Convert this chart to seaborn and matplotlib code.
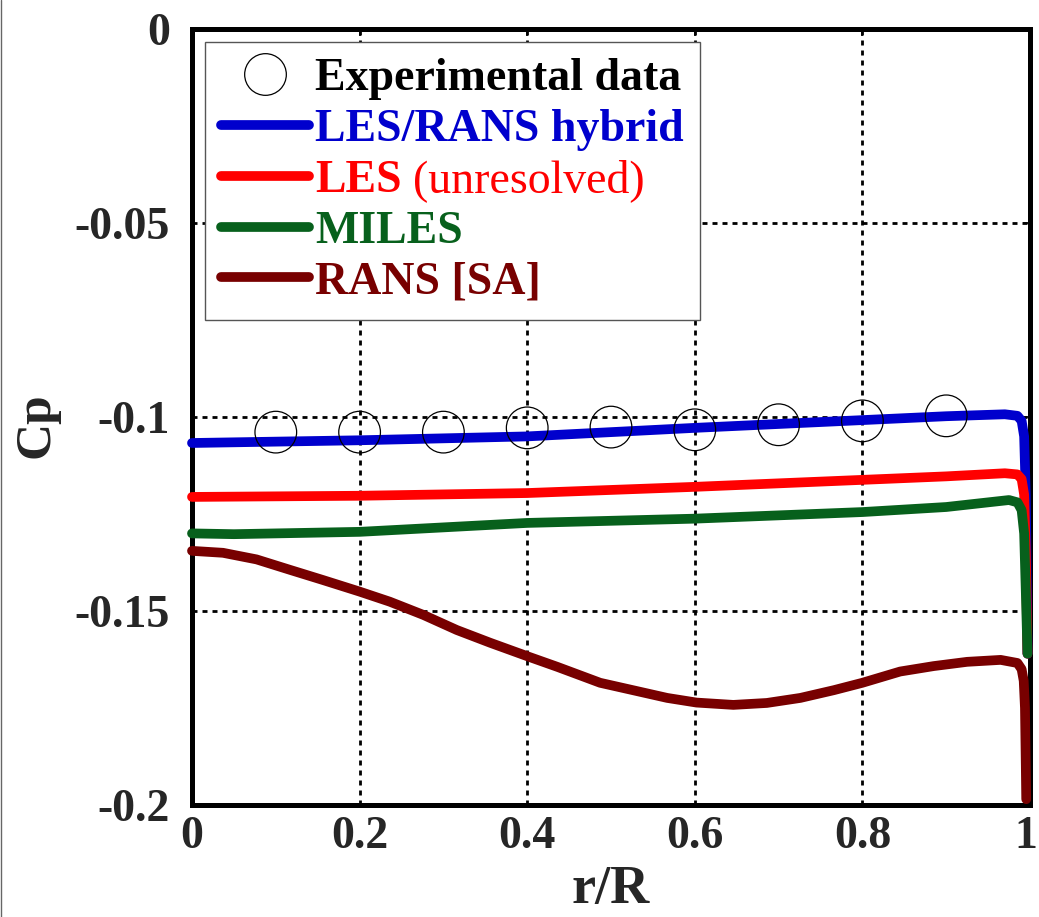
import numpy as np
import pandas as pd
import matplotlib
matplotlib.use('Agg')
import matplotlib.pyplot as plt
import matplotlib.transforms as mtransforms
from matplotlib.lines import Line2D
import seaborn as sns

# ---- data ----
exp_r = [0.1, 0.2, 0.3, 0.4, 0.5, 0.6, 0.7, 0.8, 0.9]
exp_cp = [-0.1039, -0.1039, -0.1039, -0.1028, -0.1026, -0.1033, -0.1020, -0.1010, -0.0997]

hyb_r = [0.0, 0.2, 0.4, 0.6, 0.8, 0.9, 0.97, 0.985, 0.99, 0.993, 0.995, 0.997]
hyb_cp = [-0.1067, -0.1060, -0.1050, -0.1028, -0.1008, -0.0998, -0.0993, -0.0997, -0.1010, -0.1050, -0.1200, -0.1610]

les_r = [0.0, 0.2, 0.4, 0.6, 0.8, 0.9, 0.97, 0.985, 0.99, 0.993, 0.995, 0.997]
les_cp = [-0.1206, -0.1203, -0.1196, -0.1180, -0.1162, -0.1153, -0.1145, -0.1148, -0.1160, -0.1200, -0.1350, -0.1610]

miles_r = [0.0, 0.05, 0.2, 0.4, 0.6, 0.8, 0.9, 0.95, 0.975, 0.985, 0.99, 0.993, 0.995, 0.997]
miles_cp = [-0.1300, -0.1302, -0.1296, -0.1273, -0.1262, -0.1245, -0.1232, -0.1220, -0.1214, -0.1220, -0.1240, -0.1300, -0.1450, -0.1610]

rans_r = [0.0, 0.037, 0.077, 0.117, 0.156, 0.2, 0.236, 0.276, 0.316, 0.356, 0.402, 0.436, 0.487,
          0.526, 0.567, 0.602, 0.646, 0.686, 0.726, 0.766, 0.8, 0.845, 0.885, 0.925, 0.965,
          0.985, 0.99, 0.9925, 0.994, 0.995, 0.9955]
rans_cp = [-0.1345, -0.1350, -0.1367, -0.1394, -0.1420, -0.1450, -0.1476, -0.1510, -0.1549, -0.1582,
           -0.1618, -0.1644, -0.1685, -0.1704, -0.1724, -0.1736, -0.1742, -0.1737, -0.1724, -0.1704,
           -0.1685, -0.1656, -0.1642, -0.1631, -0.1626, -0.1634, -0.1650, -0.1680, -0.1750, -0.1900,
           -0.1985]

models = ['LES/RANS hybrid', 'LES', 'MILES', 'RANS [SA]']
colors = ['#0000cd', '#ff0000', '#07601c', '#780000']

xticks = [0, 0.2, 0.4, 0.6, 0.8, 1.0]
xticklabels = ['0', '0.2', '0.4', '0.6', '0.8', '1']
yticks = [0, -0.05, -0.1, -0.15, -0.2]
yticklabels = ['0', '-0.05', '-0.1', '-0.15', '-0.2']

# ---- style ----
sns.set_style('white')
plt.rcParams['font.family'] = ['Liberation Serif', 'DejaVu Serif']
plt.rcParams['font.weight'] = 'bold'
plt.rcParams['axes.unicode_minus'] = False

frames = []
for name, r, cp in zip(models, [hyb_r, les_r, miles_r, rans_r], [hyb_cp, les_cp, miles_cp, rans_cp]):
    frames.append(pd.DataFrame({'r': r, 'cp': cp, 'model': name}))
df = pd.concat(frames, ignore_index=True)
exp_df = pd.DataFrame({'r': exp_r, 'cp': exp_cp})

fig = plt.figure(figsize=(10.39, 9.17), dpi=100)
ax = fig.add_axes([192 / 1039, 1 - 805 / 917, 838 / 1039, 776 / 917])

# dotted grid at the inner ticks only
for gx in xticks[1:-1]:
    ax.axvline(gx, color='black', lw=2, ls=(0, (1.8, 1.8)), zorder=1)
for gy in yticks[1:-1]:
    ax.axhline(gy, color='black', lw=2, ls=(0, (1.8, 1.8)), zorder=1)

sns.lineplot(data=df, x='r', y='cp', hue='model', hue_order=models,
             palette=dict(zip(models, colors)), estimator=None, sort=False,
             lw=7, legend=False, ax=ax, clip_on=False, zorder=3)
sns.scatterplot(data=exp_df, x='r', y='cp', s=900, marker='o',
                facecolor='none', edgecolor='black', linewidth=0.9, ax=ax, zorder=4)

ax.set_xlim(0, 1)
ax.set_ylim(-0.2, 0)
ax.set_xticks(xticks)
ax.set_xticklabels(xticklabels)
ax.set_yticks(yticks)
ax.set_yticklabels(yticklabels)
ax.tick_params(axis='both', direction='in', length=5, width=1.2, labelsize=33,
               top=True, right=True, color='black')
ax.tick_params(axis='x', pad=8)
ax.tick_params(axis='y', pad=16)
for sp in ax.spines.values():
    sp.set_linewidth(3.6)
    sp.set_color('black')
    sp.set_visible(True)

# keep the "1" label inside the canvas
last = ax.get_xticklabels()[-1]
last.set_transform(last.get_transform() + mtransforms.ScaledTranslation(-3 / 72, 0, fig.dpi_scale_trans))

ax.set_xlabel('r/R', fontsize=39, fontweight='bold')
ax.set_ylabel('Cp', fontsize=37, fontweight='bold')
ax.xaxis.set_label_coords(0.5, -0.109)
ax.xaxis.label.set_va('center')
ax.yaxis.set_label_coords(-0.185, 0.49)
ax.yaxis.label.set_va('center')

# ---- legend ----
handles = [Line2D([], [], marker='o', ls='none', mfc='none', mec='black', ms=30, mew=0.9)]
handles += [Line2D([], [], color=c, lw=7) for c in colors]
labels = ['Experimental data'] + models
leg = ax.legend(handles, labels, loc='upper left', bbox_to_anchor=(0.0155, 0.983),
                borderaxespad=0, fontsize=33, handlelength=1.93, handletextpad=0.13,
                labelspacing=0.19, borderpad=0.35, fancybox=False, framealpha=1,
                edgecolor='#555555')
leg.get_frame().set_linewidth(1)
leg.set_zorder(6)
for txt, c in zip(leg.get_texts(), ['black'] + colors):
    txt.set_color(c)

# regular-weight suffix after "LES"
ax.annotate('(unresolved)', xy=(1, 0), xycoords=leg.get_texts()[2],
            xytext=(8, 0), textcoords='offset points', ha='left', va='bottom',
            fontsize=33, fontweight='normal', color='#ff0000', zorder=10,
            annotation_clip=False)

# thin page border on the left edge
fig.add_artist(Line2D([0.001, 0.001], [0, 1], color='#666666', lw=1, transform=fig.transFigure))

fig.savefig('out.png', dpi=100)
